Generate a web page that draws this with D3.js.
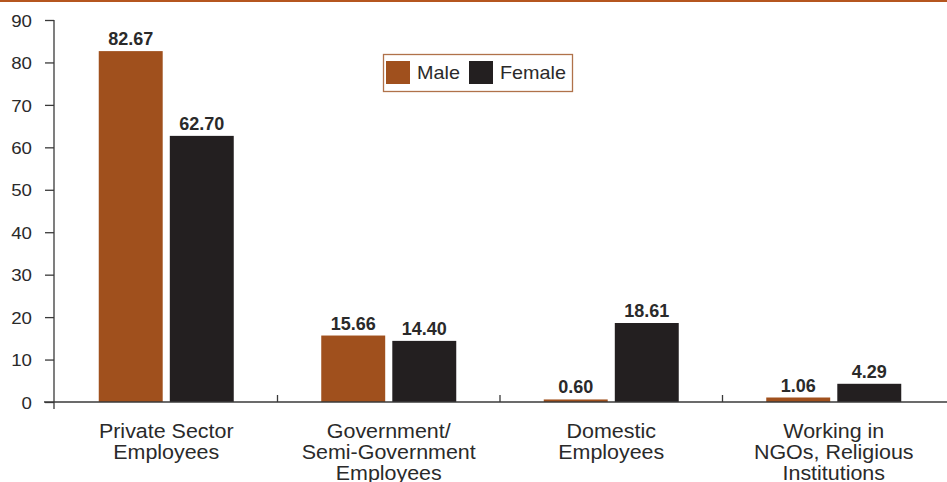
<!DOCTYPE html>
<html>
<head>
<meta charset="utf-8">
<script src="https://cdn.jsdelivr.net/npm/d3@7"></script>
<style>
  html, body { margin: 0; padding: 0; background: #fff; }
  svg { display: block; font-family: Arial, "Liberation Sans", Helvetica, sans-serif; }
</style>
</head>
<body>
<svg id="chart" width="947" height="482"></svg>
<script>
// Employment type by sex (percent)
const categories = [
  ["Private Sector", "Employees"],
  ["Government/", "Semi-Government", "Employees"],
  ["Domestic", "Employees"],
  ["Working in", "NGOs, Religious", "Institutions"]
];
const categoryKeys = ["private", "government", "domestic", "ngo"];
const seriesNames = ["Male", "Female"];
const maleValues = [82.67, 15.66, 0.60, 1.06];
const femaleValues = [62.70, 14.40, 18.61, 4.29];
const yTicks = [0, 10, 20, 30, 40, 50, 60, 70, 80, 90];

const colors = { Male: "#a0501d", Female: "#231f20" };
const axisColor = "#3a3a3a";
const textColor = "#2a2a2a";
const stretch = 1.1;

const svg = d3.select("#chart");

const margin = { left: 55, right: 2, top: 20, bottom: 80 };
const W = 947, H = 482;
const y0 = 402, y1 = 20;

const x = d3.scaleBand().domain(categoryKeys).range([55, 945]).paddingInner(0).paddingOuter(0);
const y = d3.scaleLinear().domain([0, 90]).range([y0, y1]);

const pairWidth = 135;
const sub = key => {
  const c = x(key) + x.bandwidth() / 2;
  return d3.scaleBand().domain(seriesNames).range([c - pairWidth / 2, c + pairWidth / 2]).paddingInner(0.1);
};

// top rule
svg.append("rect").attr("x", 0).attr("y", 0).attr("width", W).attr("height", 2).attr("fill", "#b5561f");

// bars
const data = categoryKeys.map((k, i) => ({ key: k, Male: maleValues[i], Female: femaleValues[i] }));
data.forEach(d => {
  const s = sub(d.key);
  seriesNames.forEach(name => {
    const v = d[name];
    svg.append("rect")
      .attr("x", s(name))
      .attr("y", y(v))
      .attr("width", s.bandwidth())
      .attr("height", y(0) - y(v))
      .attr("fill", colors[name]);
    svg.append("text")
      .attr("x", s(name) + s.bandwidth() / 2)
      .attr("y", y(v) - 6)
      .attr("text-anchor", "middle")
      .attr("font-size", 18)
      .attr("font-weight", "bold")
      .attr("fill", textColor)
      .text(v.toFixed(2));
  });
});

// y axis
const yAxis = d3.axisLeft(y).tickValues(yTicks).tickSize(9).tickPadding(13).tickFormat(d3.format("d"));
const gy = svg.append("g").attr("transform", "translate(54,0)").call(yAxis);
gy.select(".domain").remove();
gy.selectAll(".tick line").attr("stroke", axisColor).attr("stroke-width", 1.3);
gy.selectAll(".tick text")
  .attr("fill", textColor)
  .attr("font-size", 17)
  .attr("font-family", "Arial, 'Liberation Sans', sans-serif")
  .attr("dy", "0.36em")
  .each(function () {
    const t = d3.select(this);
    const tx = +t.attr("x");
    t.attr("x", null).attr("transform", `translate(${tx},0) scale(${stretch},1)`);
  });
svg.append("line").attr("x1", 54).attr("x2", 54).attr("y1", y(90)).attr("y2", y0 + 7)
  .attr("stroke", axisColor).attr("stroke-width", 1.3);

// x axis baseline and category separators
svg.append("line").attr("x1", 44).attr("x2", W).attr("y1", y0).attr("y2", y0)
  .attr("stroke", axisColor).attr("stroke-width", 1.3);
categoryKeys.slice(1).forEach(k => {
  svg.append("line").attr("x1", x(k)).attr("x2", x(k)).attr("y1", y0).attr("y2", y0 - 7)
    .attr("stroke", axisColor).attr("stroke-width", 1.3);
});

// category labels
categoryKeys.forEach((k, i) => {
  const cx = x(k) + x.bandwidth() / 2;
  const t = svg.append("text")
    .attr("transform", `translate(${cx},438) scale(${stretch},1)`)
    .attr("text-anchor", "middle")
    .attr("font-size", 19.5)
    .attr("fill", textColor);
  categories[i].forEach((line, j) => {
    t.append("tspan").attr("x", 0).attr("y", j * 21).text(line);
  });
});

// legend
const lg = svg.append("g");
lg.append("rect").attr("x", 383.5).attr("y", 54.5).attr("width", 189).attr("height", 37)
  .attr("fill", "#fff").attr("stroke", "#b0724a").attr("stroke-width", 1.3);
const legendItems = [
  { name: "Male", sx: 386, tx: 417 },
  { name: "Female", sx: 469, tx: 500 }
];
legendItems.forEach(it => {
  lg.append("rect").attr("x", it.sx).attr("y", 61).attr("width", 24).attr("height", 23)
    .attr("fill", colors[it.name]);
  lg.append("text")
    .attr("transform", `translate(${it.tx},79) scale(${stretch},1)`)
    .attr("font-size", 18)
    .attr("fill", textColor)
    .text(it.name);
});
</script>
</body>
</html>
